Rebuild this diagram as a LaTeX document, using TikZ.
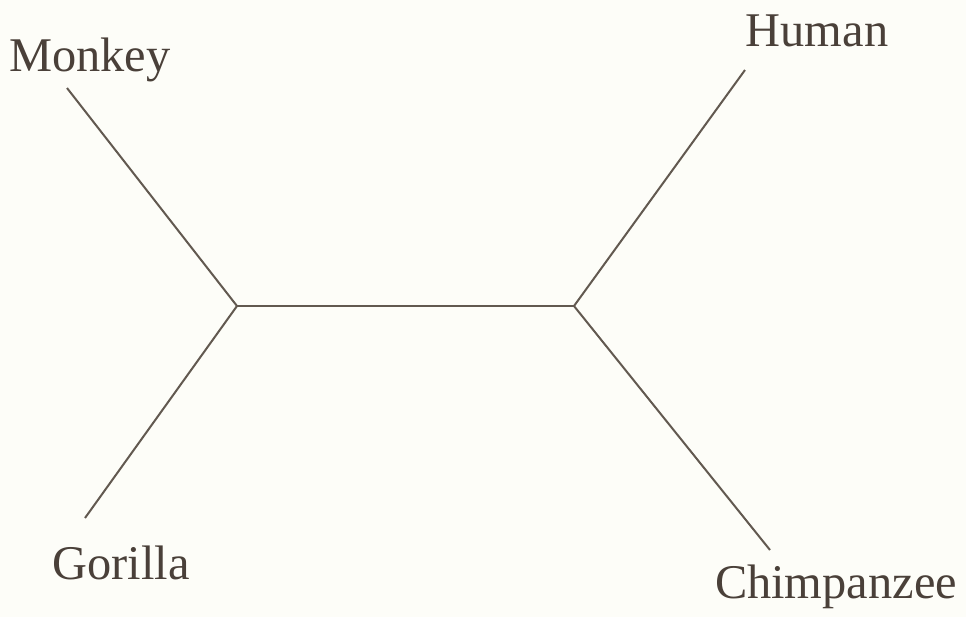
\documentclass[tikz,border=0pt]{standalone}
\usepackage{fontspec}
\setmainfont{Liberation Serif}
\usetikzlibrary{positioning}

\begin{document}
\begin{tikzpicture}[x=0.5pt, y=-0.5pt,
			label/.style={anchor=base, inner sep=0pt, text=labeltext, font=\fontsize{24.2}{29}\selectfont},
			branch/.style={draw=branchline, line width=1pt}]
			\definecolor{labeltext}{HTML}{4A4039}
			\definecolor{branchline}{HTML}{625950}
			\definecolor{paper}{HTML}{FDFDF8}
			
			% 背景
			\fill[paper] (0,0) rectangle (966,617);
			\useasboundingbox (0,0) rectangle (966,617);
			
			% 定义节点
			\coordinate (left) at (237,306);
			\coordinate (right) at (574,306);
			\coordinate (monkeyend) at (67,88);
			\coordinate (gorillaend) at (85,518);
			\coordinate (humanend) at (745,70);
			\coordinate (chimpend) at (770,550);
			
			\node[label] (monkey) at (90,71) {Monkey};
			\node[label] (gorilla) at (121,579) {Gorilla};
			\node[label] (human) at (817,46) {Human};
			\node[label] (chimp) at (836,598) {Chimpanzee};
			
			% 连线
			\draw[branch] (monkeyend) -- (left);
			\draw[branch] (gorillaend) -- (left);
			\draw[branch] (left) -- (right);
			\draw[branch] (humanend) -- (right);
			\draw[branch] (chimpend) -- (right);
			
		\end{tikzpicture}
\end{document}
